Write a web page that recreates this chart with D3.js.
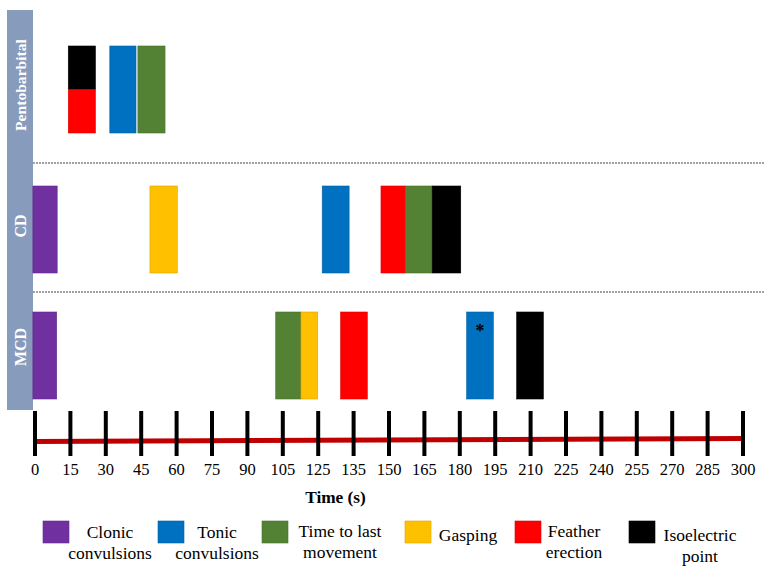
<!DOCTYPE html>
<html>
<head>
<meta charset="utf-8">
<script src="https://cdn.jsdelivr.net/npm/d3@7"></script>
</head>
<body style="margin:0">
<svg id="chart" width="765" height="575" font-family="Liberation Serif"></svg>
<script>
// ---------------- data ----------------
const groups = ["Pentobarbital", "CD", "MCD"];
const eventNames = ["Clonic convulsions", "Tonic convulsions", "Time to last movement", "Gasping", "Feather erection", "Isoelectric point"];
const eventColors = ["#7030a0", "#0070c0", "#548235", "#ffc000", "#ff0000", "#000000"];
const legendLines = [["Clonic", "convulsions"], ["Tonic", "convulsions"], ["Time to last", "movement"], ["Gasping"], ["Feather", "erection"], ["Isoelectric", "point"]];

const tickValues = [0, 15, 30, 45, 60, 75, 90, 105, 120, 135, 150, 165, 180, 195, 210, 225, 240, 255, 270, 285, 300];
const tickLabels = ["0", "15", "30", "45", "60", "75", "90", "105", "125", "135", "150", "165", "180", "195", "210", "225", "240", "255", "270", "285", "300"];

// bars: group, event, start time (s), end time (s), part of the row (full / upper / lower)
const barGroup = ["Pentobarbital", "Pentobarbital", "Pentobarbital", "Pentobarbital",
                  "CD", "CD", "CD", "CD", "CD", "CD",
                  "MCD", "MCD", "MCD", "MCD", "MCD", "MCD"];
const barEvent = ["Isoelectric point", "Feather erection", "Tonic convulsions", "Time to last movement",
                  "Clonic convulsions", "Gasping", "Tonic convulsions", "Feather erection", "Time to last movement", "Isoelectric point",
                  "Clonic convulsions", "Time to last movement", "Gasping", "Feather erection", "Tonic convulsions", "Isoelectric point"];
const barStart = [14.1, 14.1, 31.7, 43.6,
                  -0.9, 48.7, 121.7, 146.6, 156.9, 168.3,
                  -0.9, 102.0, 112.7, 129.5, 182.9, 204.1];
const barEnd   = [25.6, 25.6, 42.8, 55.1,
                  9.4, 60.3, 133.1, 156.9, 168.3, 180.4,
                  9.2, 112.7, 119.8, 140.8, 194.2, 215.4];
const barPart  = ["upper", "lower", "full", "full",
                  "full", "full", "full", "full", "full", "full",
                  "full", "full", "full", "full", "full", "full"];
const barMark  = ["", "", "", "", "", "", "", "", "", "", "", "", "", "", "*", ""];

// ---------------- drawing ----------------
const svg = d3.select("#chart");

const x = d3.scaleLinear().domain([0, 300]).range([35, 743]);
const color = d3.scaleOrdinal().domain(eventNames).range(eventColors);

const panelTop = d3.scaleOrdinal().domain(groups).range([10, 163, 291]);
const panelBottom = d3.scaleOrdinal().domain(groups).range([163, 291, 410]);
const labelCenter = d3.scaleOrdinal().domain(groups).range([85, 226, 347]);
const barTop = d3.scaleOrdinal().domain(groups).range([46, 186, 312]);
const barH = 87;

groups.forEach(g => {
  svg.append("rect")
    .attr("x", 7).attr("y", panelTop(g))
    .attr("width", 26).attr("height", panelBottom(g) - panelTop(g))
    .attr("fill", "#879cbd");
  svg.append("text")
    .attr("transform", `translate(25.5,${labelCenter(g)}) rotate(-90)`)
    .attr("text-anchor", "middle")
    .attr("fill", "#fff")
    .attr("font-weight", "bold")
    .attr("font-size", g === "Pentobarbital" ? 15.6 : 16)
    .style("font-family", "Liberation Serif")
    .text(g);
});

[163, 292].forEach(yy => {
  svg.append("line")
    .attr("x1", 33).attr("x2", 765)
    .attr("y1", yy).attr("y2", yy)
    .attr("stroke", "#444")
    .attr("stroke-width", 1.2)
    .attr("stroke-dasharray", "2,1");
});

const bars = barEvent.map((e, i) => ({
  group: barGroup[i], event: e, start: barStart[i], end: barEnd[i], part: barPart[i], mark: barMark[i]
}));

svg.append("g").selectAll("rect")
  .data(bars)
  .join("rect")
  .attr("x", d => x(d.start))
  .attr("width", d => x(d.end) - x(d.start))
  .attr("y", d => barTop(d.group) + (d.part === "lower" ? barH / 2 : 0))
  .attr("height", d => d.part === "full" ? barH : barH / 2)
  .attr("fill", d => color(d.event))
  .attr("stroke", d => d3.color(color(d.event)).darker(0.4))
  .attr("stroke-width", 0.6);

bars.filter(d => d.mark).forEach(d => {
  svg.append("text")
    .attr("x", (x(d.start) + x(d.end)) / 2)
    .attr("y", barTop(d.group) + 25)
    .attr("text-anchor", "middle")
    .attr("font-size", 18)
    .attr("font-weight", "bold")
    .style("font-family", "Liberation Serif")
    .text(d.mark);
});

svg.append("line")
  .attr("x1", x(0)).attr("x2", x(300))
  .attr("y1", 441.5).attr("y2", 438.5)
  .attr("stroke", "#c00000")
  .attr("stroke-width", 5);

tickValues.forEach((v, i) => {
  svg.append("line")
    .attr("x1", x(v)).attr("x2", x(v))
    .attr("y1", 411).attr("y2", 456)
    .attr("stroke", "#000").attr("stroke-width", 4);
  svg.append("text")
    .attr("x", x(v)).attr("y", 475)
    .attr("text-anchor", "middle")
    .attr("font-size", 16.5)
    .style("font-family", "Liberation Serif")
    .text(tickLabels[i]);
});

svg.append("text")
  .attr("x", 335.5).attr("y", 502.5)
  .attr("text-anchor", "middle")
  .attr("font-weight", "bold")
  .attr("font-size", 17.3)
  .style("font-family", "Liberation Serif")
  .text("Time (s)");

const legendSwatchX = [43, 158, 262, 405, 515, 629];
const legendTextX = [110, 217, 340, 468, 574, 700];
const legendBaseline = [538, 538, 537, 541, 537, 541];

eventNames.forEach((e, i) => {
  svg.append("rect")
    .attr("x", legendSwatchX[i]).attr("y", 521)
    .attr("width", 26).attr("height", 22)
    .attr("fill", color(e))
    .attr("stroke", d3.color(color(e)).darker(0.4))
    .attr("stroke-width", 0.6);
  legendLines[i].forEach((ln, j) => {
    svg.append("text")
      .attr("x", legendTextX[i])
      .attr("y", legendBaseline[i] + j * 21)
      .attr("text-anchor", "middle")
      .attr("font-size", 17.5)
      .style("font-family", "Liberation Serif")
      .text(ln);
  });
});
</script>
</body>
</html>
